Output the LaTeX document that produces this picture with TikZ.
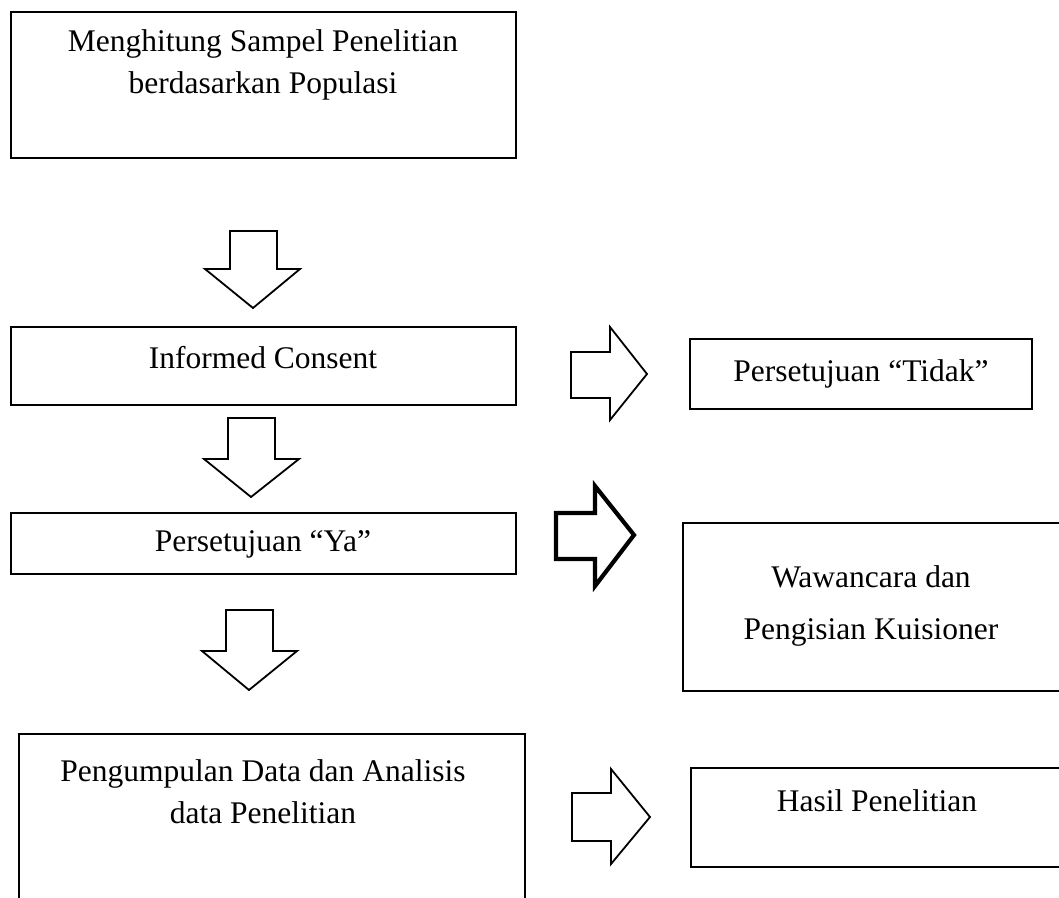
\documentclass[tikz,border=0pt]{standalone}
\usepackage{fontspec}
\setmainfont{Liberation Serif}
\begin{document}
\begin{tikzpicture}[x=1pt,y=-1pt,
  boxstyle/.style={draw=black,line width=1.8pt},
  blockarrow/.style={draw=black,line width=1.8pt,line join=miter,fill=white},
  thickarrow/.style={draw=black,line width=4.2pt,line join=miter,fill=white},
  lbl/.style={font=\fontsize{31.5}{42}\selectfont,align=center,inner sep=0pt}]
\clip (0,0) rectangle (1059,897);
\fill[white] (0,0) rectangle (1059,897);
% boxes
\draw[boxstyle] (11,12) rectangle (516,158);
\draw[boxstyle] (11,327) rectangle (516,405);
\draw[boxstyle] (11,513) rectangle (516,574);
\draw[boxstyle] (19,734) rectangle (525,910);
\draw[boxstyle] (690,339) rectangle (1032,409);
\draw[boxstyle] (683,523) rectangle (1070,691);
\draw[boxstyle] (691,768) rectangle (1070,867);
% down arrows
\draw[blockarrow] (230,231) -- (277,231) -- (277,269) -- (300,269) -- (253,308) -- (205,269) -- (230,269) -- cycle;
\draw[blockarrow] (228,418) -- (275,418) -- (275,459) -- (299,459) -- (251,497) -- (204,459) -- (228,459) -- cycle;
\draw[blockarrow] (226,610) -- (273,610) -- (273,651) -- (297,651) -- (249,690) -- (202,651) -- (226,651) -- cycle;
% right arrows
\draw[blockarrow] (571,352) -- (610,352) -- (610,327) -- (647,374) -- (610,420) -- (610,398) -- (571,398) -- cycle;
\draw[thickarrow] (556,513) -- (595,513) -- (595,486) -- (634,535) -- (595,586) -- (595,559) -- (556,559) -- cycle;
\draw[blockarrow] (572,793) -- (611,793) -- (611,769) -- (650,817) -- (611,864) -- (611,841) -- (572,841) -- cycle;
% texts
\node[lbl] (t1) at (263,65) {Menghitung Sampel Penelitian\\berdasarkan Populasi};
\node[lbl] (t2) at (263,358) {Informed Consent};
\node[lbl] (t3) at (263,544) {Persetujuan “Ya”};
\node[lbl] (t4) at (861,374) {Persetujuan “Tidak”};
\node[lbl,font=\fontsize{31.5}{52}\selectfont] (t5) at (871,606) {Wawancara dan\\Pengisian Kuisioner};
\node[lbl] (t6) at (263,792) {Pengumpulan Data dan Analisis\\data Penelitian};
\node[lbl] (t7) at (877,801) {Hasil Penelitian};
\end{tikzpicture}
\end{document}
